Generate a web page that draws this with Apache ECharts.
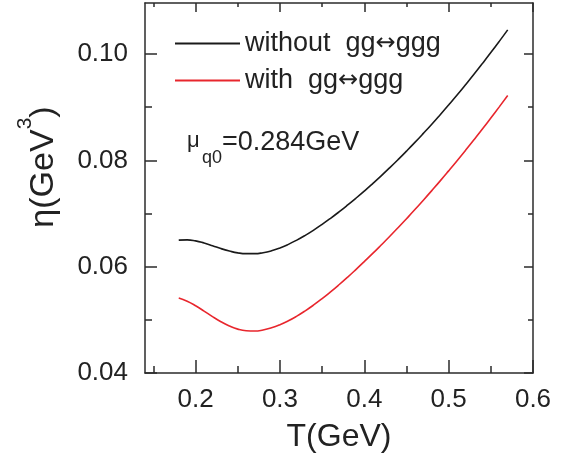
<!DOCTYPE html>
<html>
<head>
<meta charset="utf-8">
<script src="https://cdn.jsdelivr.net/npm/echarts@6/dist/echarts.min.js"></script>
<style>html,body{margin:0;padding:0;background:#fff}#c{width:569px;height:460px}</style>
</head>
<body>
<div id="c"></div>
<script>
// ---- data ----
var T = [0.18,0.19,0.20,0.21,0.22,0.23,0.24,0.25,0.26,0.27,0.28,0.29,0.30,0.31,0.32,0.33,0.34,0.35,0.36,0.37,0.38,0.39,0.40,0.41,0.42,0.43,0.44,0.45,0.46,0.47,0.48,0.49,0.50,0.51,0.52,0.53,0.54,0.55,0.56,0.57];
var etaWithout = [0.06500,0.06505,0.06485,0.06445,0.06395,0.06340,0.06295,0.06260,0.06245,0.06245,0.06263,0.06299,0.06352,0.06420,0.06500,0.06590,0.06689,0.06796,0.06910,0.07030,0.07156,0.07287,0.07423,0.07564,0.07709,0.07859,0.08014,0.08174,0.08338,0.08507,0.08680,0.08859,0.09042,0.09229,0.09422,0.09619,0.09821,0.10027,0.10238,0.10454];
var etaWith = [0.05410,0.05350,0.05265,0.05165,0.05060,0.04965,0.04885,0.04825,0.04795,0.04790,0.04810,0.04850,0.04908,0.04982,0.05070,0.05170,0.05280,0.05399,0.05526,0.05660,0.05800,0.05946,0.06096,0.06249,0.06407,0.06568,0.06733,0.06902,0.07074,0.07251,0.07431,0.07614,0.07802,0.07993,0.08188,0.08387,0.08589,0.08796,0.09006,0.09219];
var seriesNames = ['without  gg\u2194ggg', 'with  gg\u2194ggg'];
var xMajor = [0.2,0.3,0.4,0.5,0.6];
var xMinor = [0.15,0.25,0.35,0.45,0.55];
var yMajor = [0.04,0.06,0.08,0.10];
var yMinor = [0.05,0.07,0.09];
var xTitle = 'T(GeV)';
var annotation = ['\u03bc', 'q0', '=0.284GeV'];

var FONT = '"Liberation Sans", Arial, Helvetica, sans-serif';
var AX = '#2b2b2b';
var XMIN = 0.14, XMAX = 0.6, YMIN = 0.04, YMAX = 0.1096;

function pair(arrX, arrY){ return arrX.map(function(x,i){return [x, arrY[i]];}); }

function xAx(pos, vals, len, showLine, showLabel){
  return {
    type:'value', position:pos, min:XMIN, max:XMAX,
    splitLine:{show:false},
    axisLine:{show:showLine, onZero:false, lineStyle:{color:AX,width:1.5}},
    axisTick:{show:true, inside:true, length:len, customValues:vals, lineStyle:{color:AX,width:1.5}},
    axisLabel:{show:showLabel, customValues:vals, margin:14, fontSize:26, color:'#222', fontFamily:FONT,
      formatter:function(v){return v.toFixed(1);}}
  };
}
function yAx(pos, vals, len, showLine, showLabel){
  return {
    type:'value', position:pos, min:YMIN, max:YMAX,
    splitLine:{show:false},
    axisLine:{show:showLine, onZero:false, lineStyle:{color:AX,width:1.5}},
    axisTick:{show:true, inside:true, length:len, customValues:vals, lineStyle:{color:AX,width:1.5}},
    axisLabel:{show:showLabel, customValues:vals, margin:17, fontSize:26, color:'#222', fontFamily:FONT,
      formatter:function(v){return v.toFixed(2);}}
  };
}

var chart = echarts.init(document.getElementById('c'), null, {renderer:'canvas'});
chart.setOption({
  animation:false,
  backgroundColor:'#fff',
  grid:{left:145, right:36, top:3, bottom:87, containLabel:false},
  legend:{
    orient:'vertical', left:170, top:25, itemGap:10,
    icon:'rect', itemWidth:65, itemHeight:2,
    textStyle:{fontSize:27, color:'#222', fontFamily:FONT,
      rich:{
        t:{fontSize:27, color:'#222', fontFamily:FONT},
        a:{fontSize:24, color:'#222', fontFamily:'"DejaVu Sans", sans-serif'}
      }},
    formatter:function(name){
      var p = name.split('\u2194');
      return '{t|' + p[0] + '}{a|\u2194}{t|' + p[1] + '}';
    },
    data:seriesNames
  },
  xAxis:[
    xAx('bottom', xMajor, 13, true, true),
    xAx('bottom', xMinor, 7, false, false),
    xAx('top', xMajor, 9, true, false),
    xAx('top', xMinor, 4, false, false)
  ],
  yAxis:[
    yAx('left', yMajor, 12, true, true),
    yAx('left', yMinor, 7, false, false),
    yAx('right', yMajor, 9, true, false),
    yAx('right', yMinor, 5, false, false)
  ],
  series:[
    {name:seriesNames[0], type:'line', xAxisIndex:0, yAxisIndex:0, data:pair(T, etaWithout),
     smooth:0.5, showSymbol:false, symbol:'none',
     lineStyle:{color:'#1a1a1a', width:1.6}, itemStyle:{color:'#1a1a1a'}},
    {name:seriesNames[1], type:'line', xAxisIndex:0, yAxisIndex:0, data:pair(T, etaWith),
     smooth:0.5, showSymbol:false, symbol:'none',
     lineStyle:{color:'#e8262d', width:1.6}, itemStyle:{color:'#e8262d'}}
  ],
  graphic:[
    {type:'text', x:339, y:437, style:{text:xTitle, font:'32px '+FONT, fill:'#222',
      textAlign:'center', textVerticalAlign:'middle', align:'center', verticalAlign:'middle'}},
    {type:'text', x:38, y:167, rotation:Math.PI/2, style:{
      text:'{a|\u03b7(GeV}{s|3}{a|)}', fill:'#222',
      textAlign:'center', textVerticalAlign:'middle', align:'center', verticalAlign:'middle',
      rich:{
        a:{fontSize:34, fontFamily:FONT, color:'#222', padding:[12,0,0,0]},
        s:{fontSize:21, fontFamily:FONT, color:'#222', verticalAlign:'top'}
      }}},
    {type:'text', x:187, y:141, style:{text:annotation[0], font:'22px '+FONT, fill:'#222',
      textAlign:'left', textVerticalAlign:'middle', align:'left', verticalAlign:'middle'}},
    {type:'text', x:202, y:158, style:{text:annotation[1], font:'18px '+FONT, fill:'#222',
      textAlign:'left', textVerticalAlign:'middle', align:'left', verticalAlign:'middle'}},
    {type:'text', x:222, y:142.5, style:{text:annotation[2], font:'27px '+FONT, fill:'#222',
      textAlign:'left', textVerticalAlign:'middle', align:'left', verticalAlign:'middle'}}
  ]
});
</script>
</body>
</html>
